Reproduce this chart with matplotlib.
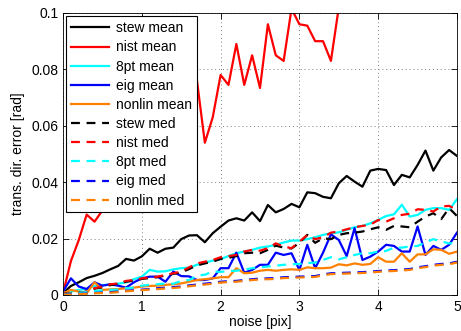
import numpy as np
import matplotlib
matplotlib.use('Agg')
import matplotlib.pyplot as plt

plt.rcParams['font.family'] = ['Liberation Sans', 'DejaVu Sans']
plt.rcParams['font.size'] = 10

# noise levels (pix)
noise = np.round(np.arange(0, 5.01, 0.1), 1)

stew_mean = [0.0006, 0.0032, 0.0045, 0.0060, 0.0068, 0.0078, 0.0091, 0.0103, 0.0128, 0.0122,
             0.0137, 0.0164, 0.0150, 0.0164, 0.0168, 0.0198, 0.0211, 0.0212, 0.0187, 0.0219,
             0.0242, 0.0264, 0.0272, 0.0264, 0.0293, 0.0262, 0.0319, 0.0293, 0.0305, 0.0323,
             0.0311, 0.0364, 0.0361, 0.0348, 0.0343, 0.0396, 0.0422, 0.0402, 0.0384, 0.0441,
             0.0447, 0.0443, 0.0390, 0.0426, 0.0417, 0.0461, 0.0512, 0.0441, 0.0488, 0.0514,
             0.0493]
nist_mean = [0.0006, 0.0120, 0.0195, 0.0285, 0.0260, 0.0300, 0.0310, 0.0350, 0.0400, 0.0440,
             0.0480, 0.0520, 0.0560, 0.0600, 0.0630, 0.0660, 0.0700, 0.0760, 0.0540, 0.0630,
             0.0780, 0.0745, 0.0890, 0.0745, 0.0850, 0.0734, 0.0960, 0.0850, 0.0830, 0.1015,
             0.0960, 0.0955, 0.0900, 0.0900, 0.0830, 0.1020, 0.1080, 0.1040, 0.1120, 0.1090,
             0.1180, 0.1140, 0.1210, 0.1170, 0.1250, 0.1220, 0.1290, 0.1260, 0.1330, 0.1300,
             0.1370]
eightpt_mean = [0.0008, 0.0012, 0.0018, 0.0022, 0.0032, 0.0035, 0.0037, 0.0040, 0.0045, 0.0056,
                0.0065, 0.0089, 0.0083, 0.0084, 0.0091, 0.0095, 0.0097, 0.0107, 0.0115, 0.0122,
                0.0127, 0.0138, 0.0148, 0.0154, 0.0160, 0.0168, 0.0172, 0.0178, 0.0186, 0.0193,
                0.0193, 0.0198, 0.0205, 0.0213, 0.0219, 0.0222, 0.0231, 0.0240, 0.0245, 0.0254,
                0.0266, 0.0280, 0.0286, 0.0320, 0.0278, 0.0284, 0.0302, 0.0308, 0.0308, 0.0302,
                0.0340]
eig_mean = [0.0012, 0.0059, 0.0030, 0.0021, 0.0045, 0.0033, 0.0038, 0.0033, 0.0026, 0.0045,
            0.0059, 0.0065, 0.0065, 0.0047, 0.0083, 0.0067, 0.0066, 0.0053, 0.0053, 0.0059,
            0.0095, 0.0095, 0.0150, 0.0079, 0.0089, 0.0107, 0.0107, 0.0150, 0.0142, 0.0148,
            0.0089, 0.0178, 0.0095, 0.0150, 0.0215, 0.0195, 0.0138, 0.0237, 0.0124, 0.0136,
            0.0154, 0.0178, 0.0174, 0.0154, 0.0154, 0.0243, 0.0142, 0.0174, 0.0160, 0.0178,
            0.0221]
nonlin_mean = [0.0006, 0.0018, 0.0012, 0.0006, 0.0045, 0.0018, 0.0020, 0.0021, 0.0024, 0.0026,
               0.0030, 0.0032, 0.0033, 0.0036, 0.0038, 0.0041, 0.0047, 0.0053, 0.0056, 0.0059,
               0.0063, 0.0063, 0.0095, 0.0077, 0.0079, 0.0086, 0.0089, 0.0086, 0.0089, 0.0091,
               0.0089, 0.0098, 0.0095, 0.0095, 0.0097, 0.0109, 0.0105, 0.0112, 0.0107, 0.0110,
               0.0134, 0.0118, 0.0118, 0.0148, 0.0118, 0.0144, 0.0144, 0.0162, 0.0160, 0.0146,
               0.0154]
stew_med = [0.0004, 0.0006, 0.0008, 0.0012, 0.0022, 0.0028, 0.0035, 0.0040, 0.0047, 0.0051,
            0.0057, 0.0060, 0.0063, 0.0069, 0.0075, 0.0080, 0.0092, 0.0105, 0.0112, 0.0118,
            0.0128, 0.0132, 0.0138, 0.0148, 0.0150, 0.0148, 0.0160, 0.0175, 0.0168, 0.0165,
            0.0185, 0.0213, 0.0185, 0.0201, 0.0198, 0.0213, 0.0219, 0.0221, 0.0225, 0.0233,
            0.0240, 0.0231, 0.0245, 0.0243, 0.0240, 0.0260, 0.0278, 0.0290, 0.0269, 0.0308,
            0.0280]
nist_med = [0.0004, 0.0005, 0.0006, 0.0012, 0.0024, 0.0030, 0.0038, 0.0041, 0.0050, 0.0053,
            0.0059, 0.0062, 0.0065, 0.0071, 0.0077, 0.0083, 0.0098, 0.0112, 0.0118, 0.0124,
            0.0134, 0.0138, 0.0142, 0.0154, 0.0160, 0.0157, 0.0166, 0.0183, 0.0172, 0.0166,
            0.0189, 0.0213, 0.0198, 0.0205, 0.0221, 0.0225, 0.0233, 0.0240, 0.0245, 0.0249,
            0.0266, 0.0260, 0.0272, 0.0284, 0.0288, 0.0304, 0.0302, 0.0296, 0.0314, 0.0316,
            0.0302]
eightpt_med = [0.0002, 0.0005, 0.0008, 0.0010, 0.0014, 0.0017, 0.0018, 0.0019, 0.0024, 0.0026,
               0.0033, 0.0036, 0.0038, 0.0041, 0.0040, 0.0050, 0.0053, 0.0068, 0.0072, 0.0083,
               0.0082, 0.0085, 0.0086, 0.0090, 0.0095, 0.0098, 0.0101, 0.0104, 0.0107, 0.0109,
               0.0110, 0.0113, 0.0115, 0.0124, 0.0134, 0.0126, 0.0134, 0.0142, 0.0148, 0.0148,
               0.0154, 0.0156, 0.0168, 0.0168, 0.0172, 0.0174, 0.0186, 0.0198, 0.0190, 0.0183,
               0.0185]
eig_med = [0.0001, 0.0002, 0.0004, 0.0005, 0.0007, 0.0009, 0.0010, 0.0012, 0.0015, 0.0017,
           0.0019, 0.0021, 0.0024, 0.0026, 0.0028, 0.0030, 0.0034, 0.0037, 0.0040, 0.0043,
           0.0047, 0.0049, 0.0050, 0.0053, 0.0056, 0.0058, 0.0059, 0.0060, 0.0063, 0.0064,
           0.0065, 0.0066, 0.0067, 0.0073, 0.0077, 0.0078, 0.0079, 0.0080, 0.0081, 0.0083,
           0.0085, 0.0087, 0.0088, 0.0090, 0.0092, 0.0098, 0.0102, 0.0107, 0.0110, 0.0112,
           0.0118]
nonlin_med = [0.0001, 0.0001, 0.0003, 0.0004, 0.0006, 0.0007, 0.0008, 0.0010, 0.0013, 0.0015,
              0.0017, 0.0019, 0.0021, 0.0023, 0.0025, 0.0027, 0.0031, 0.0034, 0.0037, 0.0040,
              0.0044, 0.0046, 0.0047, 0.0050, 0.0053, 0.0055, 0.0056, 0.0057, 0.0060, 0.0061,
              0.0062, 0.0063, 0.0064, 0.0070, 0.0074, 0.0075, 0.0076, 0.0077, 0.0078, 0.0080,
              0.0082, 0.0084, 0.0085, 0.0087, 0.0089, 0.0095, 0.0099, 0.0104, 0.0107, 0.0109,
              0.0115]

orange = (1.0, 0.5, 0.0)
cyan = (0.0, 1.0, 1.0)

fig = plt.figure(figsize=(4.61, 3.31), dpi=100)
ax = fig.add_axes([0.1367, 0.1088, 0.8546, 0.852])

lw = 1.6
dash = (4, 3)
ax.plot(noise, stew_mean, color='k', lw=lw, label='stew mean')
ax.plot(noise, nist_mean, color='r', lw=lw, label='nist mean')
ax.plot(noise, eightpt_mean, color=cyan, lw=lw, label='8pt mean')
ax.plot(noise, eig_mean, color='b', lw=lw, label='eig mean')
ax.plot(noise, nonlin_mean, color=orange, lw=lw, label='nonlin mean')
ax.plot(noise, stew_med, color='k', lw=lw, ls=(0, dash), label='stew med')
ax.plot(noise, nist_med, color='r', lw=lw, ls=(0, dash), label='nist med')
ax.plot(noise, eightpt_med, color=cyan, lw=lw, ls=(0, dash), label='8pt med')
ax.plot(noise, eig_med, color='b', lw=lw, ls=(0, dash), label='eig med')
ax.plot(noise, nonlin_med, color=orange, lw=lw, ls=(0, dash), label='nonlin med')

ax.set_xlim(0, 5)
ax.set_ylim(0, 0.1)
ax.set_xticks([0, 1, 2, 3, 4, 5])
ax.set_yticks([0, 0.02, 0.04, 0.06, 0.08, 0.1])
ax.set_yticklabels(['0', '0.02', '0.04', '0.06', '0.08', '0.1'])
ax.tick_params(direction='in', top=True, right=True, length=4, width=0.6, labelsize=10)
ax.grid(True, ls=(0, (1, 3)), color='0.5', lw=0.7)
for s in ax.spines.values():
    s.set_linewidth(0.6)

ax.set_xlabel('noise [pix]', labelpad=1)
ax.set_ylabel('trans. dir. error [rad]', labelpad=4)

leg = ax.legend(loc='upper left', fancybox=False, framealpha=1, edgecolor='k',
                fontsize=10, handlelength=2.7, labelspacing=0.37, borderaxespad=0.25,
                borderpad=0.35, handletextpad=0.5)
leg.get_frame().set_linewidth(0.8)

fig.savefig('out.png', dpi=100)
